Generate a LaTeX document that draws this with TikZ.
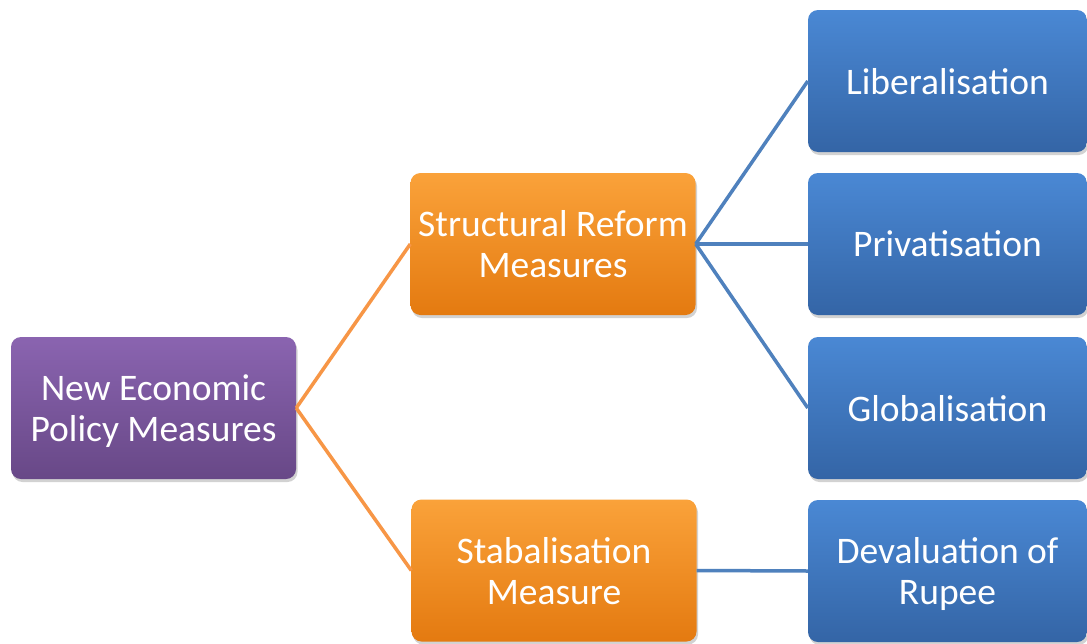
\documentclass[tikz,border=0pt]{standalone}
\usepackage{fontspec}
\setmainfont{Carlito}
\usetikzlibrary{shadows}
\definecolor{purpT}{HTML}{8A64B0}
\definecolor{purpB}{HTML}{684887}
\definecolor{orT}{HTML}{FAA23A}
\definecolor{orB}{HTML}{E47A10}
\definecolor{blT}{HTML}{4A88D4}
\definecolor{blB}{HTML}{3465A6}
\definecolor{orLine}{HTML}{F79646}
\definecolor{blLine}{HTML}{4F81BD}
\tikzset{
  box/.style={rectangle, rounded corners=10pt, minimum width=285pt, minimum height=142pt,
    align=center, text=white, font=\fontsize{37.5}{41}\selectfont, inner sep=0pt,
    text depth=0pt, yshift=0pt,
    drop shadow={shadow xshift=1.5pt, shadow yshift=-3pt, opacity=0.35}},
  purplebox/.style={box, top color=purpT, bottom color=purpB},
  orangebox/.style={box, top color=orT, bottom color=orB},
  bluebox/.style={box, minimum width=279pt, top color=blT, bottom color=blB},
  orline/.style={draw=orLine, line width=3.5pt},
  blline/.style={draw=blLine, line width=3.5pt}
}
\begin{document}
\begin{tikzpicture}[x=1pt,y=-1pt]
\useasboundingbox (0,0) rectangle (1087,643);
\fill[white] (0,0) rectangle (1087,643);
\node[purplebox] (p) at (153.5,408) {New Economic\\Policy Measures};
\node[orangebox] (s1) at (553,244) {Structural Reform\\Measures};
\node[orangebox] (s2) at (554,570.5) {Stabalisation\\Measure};
\node[bluebox] (b1) at (947.5,81) {Liberalisation};
\node[bluebox] (b2) at (947.5,244) {Privatisation};
\node[bluebox] (b3) at (947.5,408) {Globalisation};
\node[bluebox] (b4) at (947.5,571) {Devaluation of\\Rupee};
\draw[orline] (p.east) -- (s1.west);
\draw[orline] (p.east) -- (s2.west);
\draw[blline] (s1.east) -- (b1.west);
\draw[blline] (s1.east) -- (b2.west);
\draw[blline] (s1.east) -- (b3.west);
\draw[blline] (s2.east) -- (b4.west);
\end{tikzpicture}
\end{document}
